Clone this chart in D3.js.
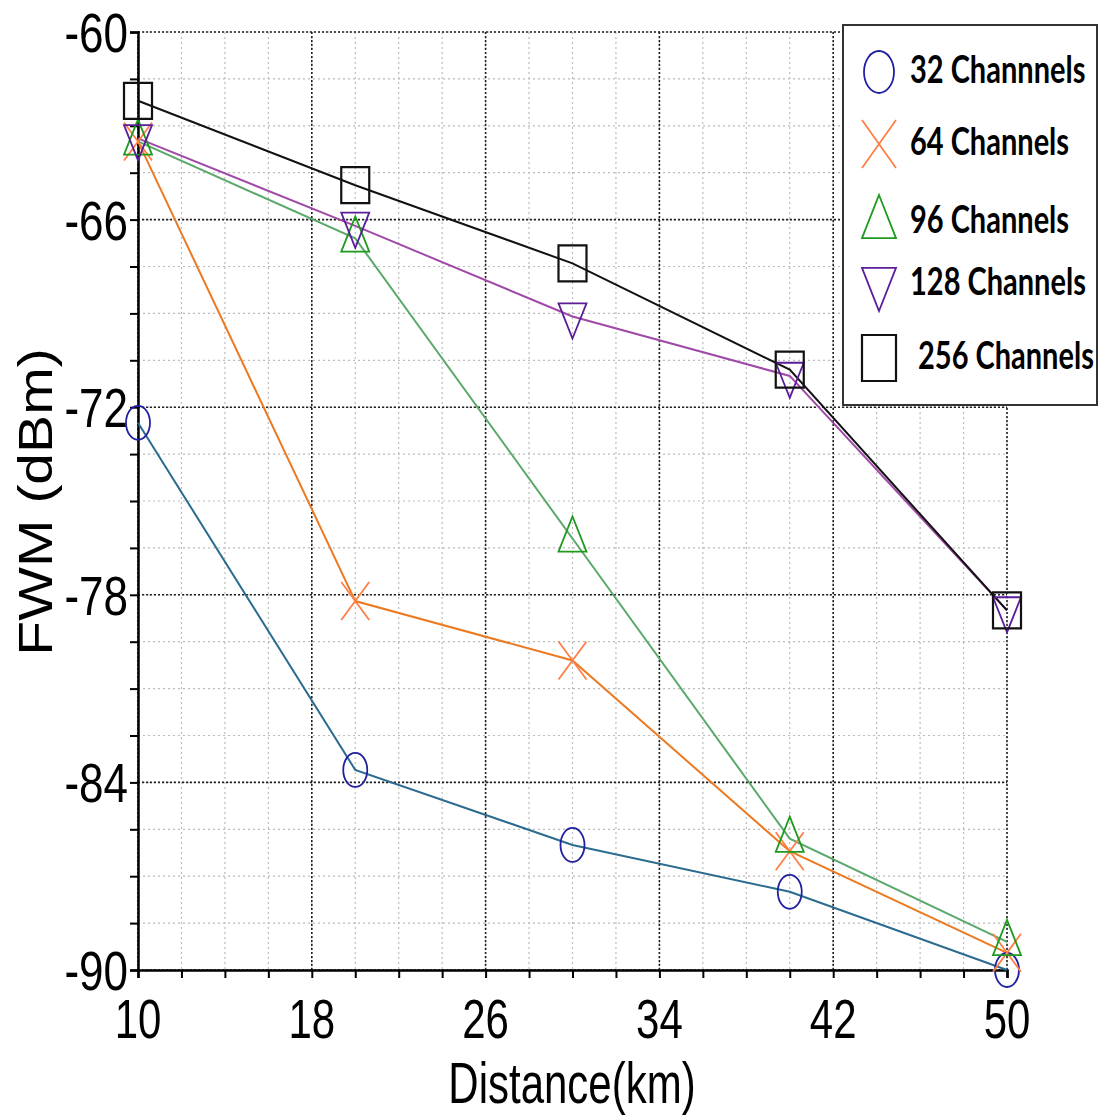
<!DOCTYPE html>
<html lang="en">
<head>
<meta charset="utf-8">
<title>FWM vs distance</title>
<script src="https://cdn.jsdelivr.net/npm/d3@7"></script>
<style>
  body { margin: 0; background: #fff; }
  svg { display: block; }
</style>
</head>
<body>
<script>
// data
var distances = [10, 20, 30, 40, 50];
var ch32  = [-72.5, -83.6, -86.0, -87.5, -90.0];
var ch64  = [-63.5, -78.2, -80.1, -86.2, -89.45];
var ch96  = [-63.5, -66.6, -76.2, -85.8, -89.1];
var ch128 = [-63.4, -66.2, -69.1, -71.0, -78.5];
var ch256 = [-62.2, -64.9, -67.4, -70.8, -78.5];
var seriesNames = ["32 Channnels", "64 Channels", "96 Channels", "128 Channels", "256 Channels"];
var xTicks = [10, 18, 26, 34, 42, 50];
var yTicks = [-60, -66, -72, -78, -84, -90];

var w = 1107, h = 1115;
var svg = d3.select("body").append("svg").attr("width", w).attr("height", h);

var x = d3.scaleLinear().domain([10, 50]).range([138, 1007]);
var y = d3.scaleLinear().domain([-90, -60]).range([970, 32]);

var series = [
  {name: seriesNames[0], vals: ch32,  line: "#2b6b8f", mark: "#2020a0", shape: "circle"},
  {name: seriesNames[1], vals: ch64,  line: "#ec7a22", mark: "#ff7f45", shape: "x"},
  {name: seriesNames[2], vals: ch96,  line: "#5aa86a", mark: "#1e9a1e", shape: "up"},
  {name: seriesNames[3], vals: ch128, line: "#a04aa8", mark: "#5a1e9a", shape: "down"},
  {name: seriesNames[4], vals: ch256, line: "#111111", mark: "#111111", shape: "square"}
];

// minor grid: every 2 km and 1.5 dBm
var xMinor = d3.range(10, 50.01, 2);
var yMinor = d3.range(-90, -59.99, 1.5);
var grid = svg.append("g");
grid.selectAll(".vx").data(xMinor).enter().append("line")
  .attr("x1", d => x(d)).attr("x2", d => x(d)).attr("y1", y(-60)).attr("y2", y(-90))
  .attr("stroke", "#bbb").attr("stroke-width", 1.2).attr("stroke-dasharray", "2,3");
grid.selectAll(".hy").data(yMinor).enter().append("line")
  .attr("y1", d => y(d)).attr("y2", d => y(d)).attr("x1", x(10)).attr("x2", x(50))
  .attr("stroke", "#bbb").attr("stroke-width", 1.2).attr("stroke-dasharray", "2,3");
// major grid
grid.selectAll(".mx").data(xTicks).enter().append("line")
  .attr("x1", d => x(d)).attr("x2", d => x(d)).attr("y1", y(-60)).attr("y2", y(-90))
  .attr("stroke", "#222").attr("stroke-width", 1.6).attr("stroke-dasharray", "2,2");
grid.selectAll(".my").data(yTicks).enter().append("line")
  .attr("y1", d => y(d)).attr("y2", d => y(d)).attr("x1", x(10)).attr("x2", x(50))
  .attr("stroke", "#222").attr("stroke-width", 1.6).attr("stroke-dasharray", "2,2");

// axes
var xAxis = d3.axisBottom(x).tickValues(xMinor).tickSize(8).tickFormat("");
var yAxis = d3.axisLeft(y).tickValues(yMinor).tickSize(8).tickFormat("");
svg.append("g").attr("transform", "translate(0," + y(-90) + ")").call(xAxis)
  .call(g => g.select(".domain").attr("stroke-width", 2.5))
  .call(g => g.selectAll(".tick line").attr("stroke-width", 2));
svg.append("g").attr("transform", "translate(" + x(10) + ",0)").call(yAxis)
  .call(g => g.select(".domain").attr("stroke-width", 2.5))
  .call(g => g.selectAll(".tick line").attr("stroke-width", 2));

// tick labels (tall, narrow like the original)
svg.selectAll(".xl").data(xTicks).enter().append("text")
  .attr("transform", d => "translate(" + x(d) + ",1038) scale(1.05,1.4)")
  .attr("text-anchor", "middle")
  .attr("font-family", "Liberation Sans, Arial, sans-serif").attr("font-size", 40)
  .text(d => d);
svg.selectAll(".yl").data(yTicks).enter().append("text")
  .attr("transform", d => "translate(128," + (y(d) + 20) + ") scale(1.1,1.4)")
  .attr("text-anchor", "end")
  .attr("font-family", "Liberation Sans, Arial, sans-serif").attr("font-size", 40)
  .text(d => d);

// axis titles
svg.append("text")
  .attr("transform", "translate(572,1103) scale(1,1.35)")
  .attr("text-anchor", "middle")
  .attr("font-family", "Liberation Sans, Arial, sans-serif").attr("font-size", 42)
  .text("Distance(km)");
svg.append("text")
  .attr("transform", "translate(52,502) rotate(-90) scale(1.24,1.05)")
  .attr("text-anchor", "middle")
  .attr("font-family", "Liberation Sans, Arial, sans-serif").attr("font-size", 46)
  .text("FWM (dBm)");

// lines
var line = d3.line().x((d, i) => x(distances[i])).y(d => y(d));
svg.selectAll(".series").data(series).enter().append("path")
  .attr("d", s => line(s.vals))
  .attr("fill", "none").attr("stroke", s => s.line).attr("stroke-width", 2);

// marker shapes, stretched vertically like the picture
function markerPath(shape, cx, cy, rw, rh) {
  if (shape === "circle") {
    return "M" + (cx - rw) + "," + cy + " a" + rw + "," + rh + " 0 1,0 " + (2 * rw) + ",0 a" + rw + "," + rh + " 0 1,0 " + (-2 * rw) + ",0";
  }
  if (shape === "x") {
    return "M" + (cx - rw) + "," + (cy - rh) + "L" + (cx + rw) + "," + (cy + rh) +
           "M" + (cx - rw) + "," + (cy + rh) + "L" + (cx + rw) + "," + (cy - rh);
  }
  if (shape === "up") {
    return "M" + cx + "," + (cy - rh) + "L" + (cx + rw) + "," + (cy + rh * 0.6) + "L" + (cx - rw) + "," + (cy + rh * 0.6) + "Z";
  }
  if (shape === "down") {
    return "M" + cx + "," + (cy + rh) + "L" + (cx + rw) + "," + (cy - rh * 0.6) + "L" + (cx - rw) + "," + (cy - rh * 0.6) + "Z";
  }
  return "M" + (cx - rw) + "," + (cy - rh) + "h" + (2 * rw) + "v" + (2 * rh) + "h" + (-2 * rw) + "Z";
}
var sizes = {circle: [12, 17], x: [14, 19], up: [14, 22], down: [14, 22], square: [14, 18]};

series.forEach(function(s) {
  svg.append("g").selectAll("path").data(s.vals).enter().append("path")
    .attr("d", (d, i) => markerPath(s.shape, x(distances[i]), y(d), sizes[s.shape][0], sizes[s.shape][1]))
    .attr("fill", "none").attr("stroke", s.mark).attr("stroke-width", s.shape === "square" ? 2.2 : 1.8);
});

// legend
var lg = svg.append("g");
lg.append("rect").attr("x", 843).attr("y", 25).attr("width", 254).attr("height", 380)
  .attr("fill", "#fff").attr("stroke", "#333").attr("stroke-width", 2);
var legendY = [72, 144, 222, 284, 358];
var legendSize = {circle: [15, 21], x: [17, 24], up: [17, 27], down: [17, 27], square: [17, 23]};
series.forEach(function(s, i) {
  lg.append("path")
    .attr("d", markerPath(s.shape, 879, legendY[i], legendSize[s.shape][0], legendSize[s.shape][1]))
    .attr("fill", "none").attr("stroke", s.mark).attr("stroke-width", s.shape === "square" ? 2.2 : 1.8);
  lg.append("text")
    .attr("transform", "translate(" + (i === 4 ? 918 : 910) + "," + (legendY[i] + 11) + ") scale(1,1.3)")
    .attr("font-family", "Lato, Open Sans, sans-serif").attr("font-weight", "bold")
    .attr("font-size", 29).attr("fill", "#000")
    .text(s.name);
});
</script>
</body>
</html>
